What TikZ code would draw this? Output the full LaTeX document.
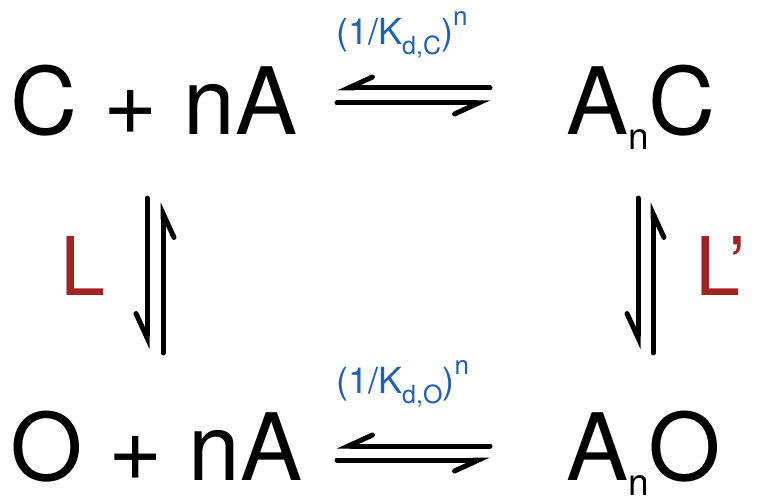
\documentclass[tikz,border=0pt]{standalone}
\usepackage{fontspec}
\setmainfont{TeX Gyre Heros}
\usetikzlibrary{arrows.meta,positioning}
\definecolor{kblue}{RGB}{32,96,176}
\definecolor{lred}{RGB}{160,36,36}

\newcommand{\sub}[1]{\raisebox{-15pt}{\fontsize{37}{37}\selectfont #1}}

\begin{document}
\begin{tikzpicture}[
    x=1pt, y=-1pt,
    species/.style={anchor=base west, inner sep=0pt, font=\fontsize{93}{93}\selectfont},
    konst/.style={anchor=base west, inner sep=0pt, text=kblue, font=\fontsize{36}{36}\selectfont},
    lconst/.style={anchor=base west, inner sep=0pt, text=lred, font=\fontsize{81}{81}\selectfont},
    harp/.style={line width=5pt, line cap=round, -{Straight Barb[right, length=24pt, width=22pt, line cap=round]}}
]
    \useasboundingbox (0,0) rectangle (761,503);

    % species
    \node[species] (cna) at (10,135) {C + nA};
    \node[species] (anc) at (566,135) {A\sub{n}C};
    \node[species] (ona) at (10,480) {O + nA};
    \node[species] (ano) at (566,480) {A\sub{n}O};

    % constants
    \node[konst] (kc) at (336,45) {(1/K\raisebox{-10pt}{\fontsize{25}{25}\selectfont d,C})\raisebox{19pt}{\fontsize{26}{26}\selectfont n}};
    \node[konst] (ko) at (336,393) {(1/K\raisebox{-10pt}{\fontsize{25}{25}\selectfont d,O})\raisebox{19pt}{\fontsize{26}{26}\selectfont n}};
    \node[lconst] (l) at (60,295) {L};
    \node[lconst] (lp) at (695,295) {L’};

    % harpoon ends
    \coordinate (ct1) at (490,88);  \coordinate (ct2) at (337,88);
    \coordinate (cb1) at (337,103); \coordinate (cb2) at (490,103);
    \coordinate (ot1) at (490,446); \coordinate (ot2) at (337,446);
    \coordinate (ob1) at (337,460); \coordinate (ob2) at (490,460);
    \coordinate (la1) at (147,198); \coordinate (la2) at (147,349);
    \coordinate (lb1) at (163,353); \coordinate (lb2) at (163,202);
    \coordinate (ra1) at (638,198); \coordinate (ra2) at (638,349);
    \coordinate (rb1) at (653,353); \coordinate (rb2) at (653,202);

    \draw[harp] (ct1) -- (ct2);
    \draw[harp] (cb1) -- (cb2);
    \draw[harp] (ot1) -- (ot2);
    \draw[harp] (ob1) -- (ob2);
    \draw[harp] (la1) -- (la2);
    \draw[harp] (lb1) -- (lb2);
    \draw[harp] (ra1) -- (ra2);
    \draw[harp] (rb1) -- (rb2);
\end{tikzpicture}
\end{document}
